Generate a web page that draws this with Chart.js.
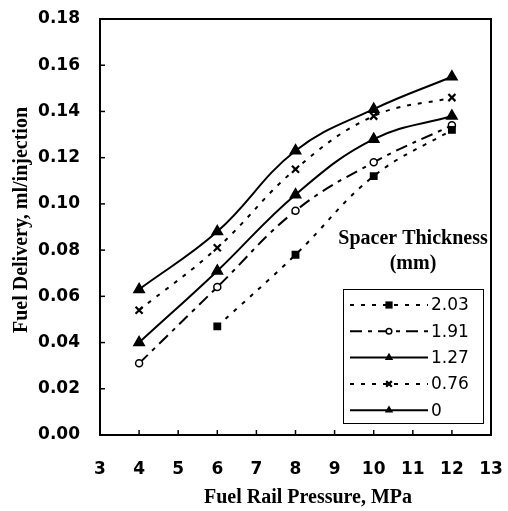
<!DOCTYPE html>
<html><head><meta charset="utf-8">
<script src="https://cdn.jsdelivr.net/npm/chart.js@4/dist/chart.umd.min.js"></script>
<style>html,body{margin:0;padding:0;background:#fff}</style>
</head><body>
<canvas id="c" width="508" height="511"></canvas>
<script>
// ---- data ----
const pressures = [4, 6, 8, 10, 12];               // Fuel rail pressure, MPa
const spacerLabels = ['2.03', '1.91', '1.27', '0.76', '0'];
const delivery203 = [null, 0.047, 0.078, 0.112, 0.132];
const delivery191 = [0.031, 0.064, 0.097, 0.118, 0.134];
const delivery127 = [0.040, 0.071, 0.104, 0.128, 0.138];
const delivery076 = [0.054, 0.081, 0.115, 0.138, 0.146];
const delivery000 = [0.063, 0.088, 0.123, 0.141, 0.155];
const xTickRange = [3, 13];
const yTickRange = [0, 0.18];
const yTickStep = 0.02;
const xTitle = 'Fuel Rail Pressure, MPa';
const yTitle = 'Fuel Delivery, ml/injection';
const legendTitle = ['Spacer Thickness', '(mm)'];

// ---- styles ----
const seriesValues = [delivery203, delivery191, delivery127, delivery076, delivery000];
const styles = [
  {dash: [4, 7], point: 'rect', radius: 4.5, fill: '#000'},
  {dash: [12, 6, 4, 6], point: 'circle', radius: 3.5, fill: '#fff'},
  {dash: [], point: 'triangle', radius: 6, fill: '#000'},
  {dash: [4, 7], point: 'crossRot', radius: 5, fill: '#000'},
  {dash: [], point: 'triangle', radius: 6, fill: '#000'}
];

const datasets = seriesValues.map((vals, i) => ({
  label: spacerLabels[i],
  data: pressures.map((p, j) => ({x: p, y: vals[j]})),
  borderColor: '#000',
  backgroundColor: styles[i].fill,
  borderWidth: 2,
  borderDash: styles[i].dash,
  pointStyle: styles[i].point,
  pointRadius: styles[i].radius,
  pointBorderWidth: styles[i].point === 'crossRot' ? 2.2 : 1.5,
  pointBackgroundColor: styles[i].fill,
  pointBorderColor: '#000',
  tension: 0.4,
  spanGaps: false
}));

function drawMarker(ctx, style, x, y, r, fill) {
  ctx.save();
  ctx.setLineDash([]);
  ctx.fillStyle = fill; ctx.strokeStyle = '#000'; ctx.lineWidth = 1.5;
  ctx.beginPath();
  if (style === 'rect') { ctx.rect(x - r, y - r, 2 * r, 2 * r); ctx.fill(); }
  else if (style === 'circle') { ctx.arc(x, y, r, 0, Math.PI * 2); ctx.fill(); ctx.stroke(); }
  else if (style === 'triangle') {
    ctx.moveTo(x, y - r); ctx.lineTo(x + r * 0.87, y + r * 0.5); ctx.lineTo(x - r * 0.87, y + r * 0.5); ctx.closePath(); ctx.fill();
  } else if (style === 'crossRot') {
    const d = r * 0.7; ctx.lineWidth = 2.2;
    ctx.moveTo(x - d, y - d); ctx.lineTo(x + d, y + d); ctx.moveTo(x + d, y - d); ctx.lineTo(x - d, y + d); ctx.stroke();
  }
  ctx.restore();
}

const decorPlugin = {
  id: 'decor',
  afterDraw(chart) {
    const {ctx, chartArea: a, scales: {x, y}} = chart;
    ctx.save();
    ctx.strokeStyle = '#000';
    ctx.lineWidth = 2;
    ctx.strokeRect(a.left, a.top, a.right - a.left, a.bottom - a.top);
    ctx.lineWidth = 1.5;
    x.ticks.forEach(t => {
      const px = x.getPixelForValue(t.value);
      ctx.beginPath(); ctx.moveTo(px, a.bottom); ctx.lineTo(px, a.bottom - 5); ctx.stroke();
    });
    y.ticks.forEach(t => {
      const py = y.getPixelForValue(t.value);
      ctx.beginPath(); ctx.moveTo(a.left, py); ctx.lineTo(a.left + 5, py); ctx.stroke();
    });
    // axis titles
    ctx.fillStyle = '#000';
    ctx.textAlign = 'center'; ctx.textBaseline = 'middle';
    ctx.font = 'bold 20px "Liberation Serif"';
    ctx.fillText(xTitle, 308, 498);
    ctx.save();
    ctx.translate(22, 220);
    ctx.rotate(-Math.PI / 2);
    ctx.fillText(yTitle, 0, 0);
    ctx.restore();
    // legend
    const bx = 343, by = 289, bw = 140, bh = 134;
    ctx.fillStyle = '#000';
    ctx.font = 'bold 20px "Liberation Serif"';
    ctx.fillText(legendTitle[0], 413, 239);
    ctx.fillText(legendTitle[1], 413, 264);
    ctx.fillStyle = '#fff';
    ctx.fillRect(bx, by, bw, bh);
    ctx.lineWidth = 1;
    ctx.strokeRect(bx + 0.5, by + 0.5, bw, bh);
    ctx.font = '17px "DejaVu Sans"';
    ctx.textAlign = 'left';
    chart.data.datasets.forEach((ds, i) => {
      const ry = by + 16 + i * 26.3;
      ctx.save();
      ctx.strokeStyle = '#000'; ctx.lineWidth = 2;
      ctx.setLineDash(ds.borderDash);
      ctx.beginPath(); ctx.moveTo(350, ry); ctx.lineTo(428, ry); ctx.stroke();
      ctx.restore();
      drawMarker(ctx, ds.pointStyle, 389, ry, ds.pointRadius * 0.8, ds.pointBackgroundColor);
      ctx.fillStyle = '#000';
      ctx.fillText(ds.label, 431, ry + 1);
    });
    ctx.restore();
  }
};

new Chart(document.getElementById('c'), {
  type: 'line',
  data: {datasets},
  options: {
    responsive: false,
    animation: false,
    devicePixelRatio: 1,
    layout: {padding: {top: 19, right: 17, left: 0, bottom: 0}},
    plugins: {legend: {display: false}, tooltip: {enabled: false}},
    scales: {
      x: {
        type: 'linear', min: xTickRange[0], max: xTickRange[1],
        ticks: {stepSize: 1, color: '#000', padding: 24, font: {family: '"DejaVu Sans"', size: 17, weight: 'bold'}},
        grid: {display: false, drawTicks: false},
        border: {display: false},
        title: {display: false, text: xTitle},
        afterFit(s) { s.height = 76; s.paddingLeft = 0; s.paddingRight = 0; }
      },
      y: {
        min: yTickRange[0], max: yTickRange[1],
        ticks: {stepSize: yTickStep, color: '#000', padding: 20, font: {family: '"DejaVu Sans"', size: 17, weight: 'bold'},
                callback: v => v.toFixed(2)},
        grid: {display: false, drawTicks: false},
        border: {display: false},
        title: {display: false, text: yTitle},
        afterFit(s) { s.width = 100; s.paddingTop = 0; s.paddingBottom = 0; }
      }
    }
  },
  plugins: [decorPlugin]
});
</script>
</body></html>
